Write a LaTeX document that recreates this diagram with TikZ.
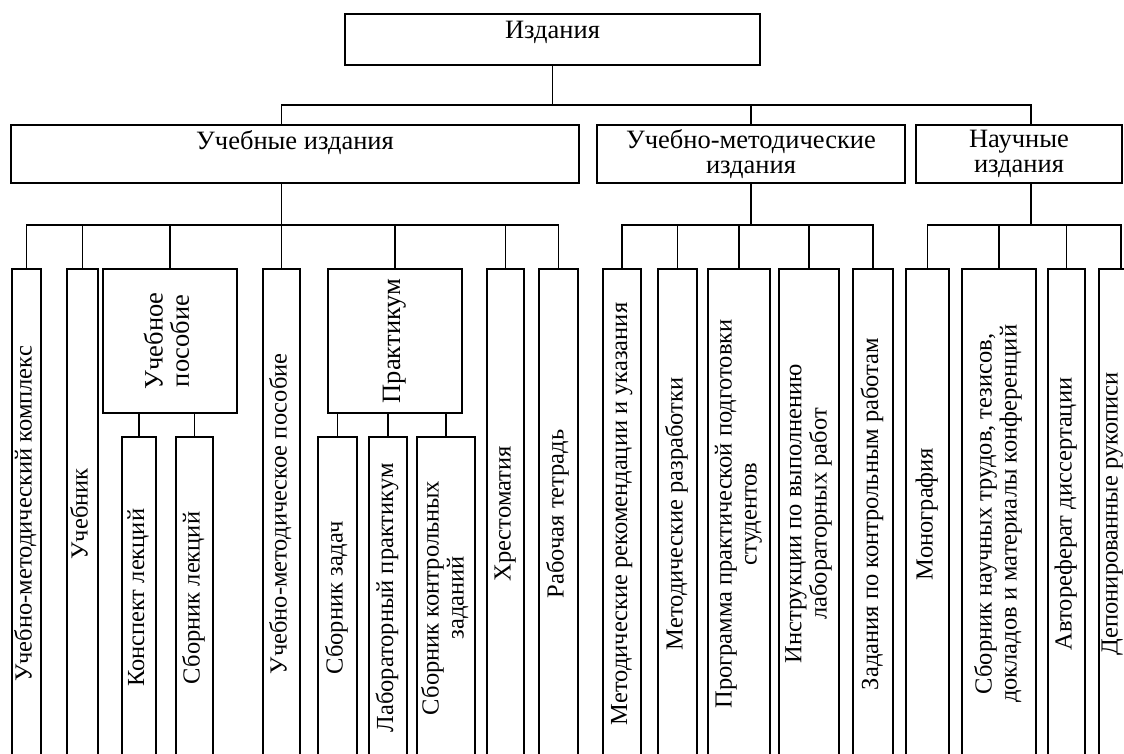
\documentclass[tikz,border=0pt]{standalone}
\usepackage{fontspec}
\setmainfont{Liberation Serif}
\usepackage{graphicx}
\usetikzlibrary{calc}
\tikzset{
	box/.style={draw, line width=1.8pt, inner sep=0pt, align=center, font=\fontsize{24.5}{25}\selectfont},
	head/.style={box, font=\fontsize{26.5}{25}\selectfont},
	leaf/.style={box, anchor=north, minimum height=490pt},
	subleaf/.style={box, anchor=north, minimum height=322pt},
	group/.style={head, anchor=north, minimum height=144pt},
	link/.style={line width=1.8pt},
}
\newcommand{\vtext}[1]{\rotatebox{90}{\begin{tabular}{@{}c@{}}#1\end{tabular}}}

\begin{document}
\begin{tikzpicture}[x=1pt, y=-1pt]
		%%%%% START %%%%%
		\path[use as bounding box, clip] (0,0) rectangle (1124,753);
		
		\node[head, minimum width=415pt, minimum height=51pt, text height=24pt, text depth=27pt] (root) at (552.5,39.5) {Издания};
		
		\node[head, minimum width=568pt, minimum height=58pt, text height=24pt, text depth=34pt] (ucheb) at (295,154) {Учебные издания};
		\node[head, minimum width=308pt, minimum height=58pt] (umizd) at (751,154) {Учебно-методические\\издания};
		\node[head, minimum width=206pt, minimum height=58pt] (sci) at (1019,154) {Научные\\издания};
		
		\coordinate (busA) at (0,105);
		\coordinate (busB) at (0,225);
		\coordinate (scitop) at ($(sci.north)+(12,0)$);
		\coordinate (scibot) at ($(sci.south)+(12,0)$);
		
		% uchebnye
		\node[leaf, minimum width=29pt] (umk) at (26.5,268) {\vtext{Учебно-методический комплекс}};
		\node[leaf, minimum width=31pt] (uchebnik) at (82.5,268) {\vtext{Учебник}};
		\node[group, minimum width=134pt] (upos) at (170,268) {\vtext{Учебное\\пособие}};
		\node[subleaf, minimum width=34pt] (konsp) at (139,436) {\vtext{Конспект лекций}};
		\node[subleaf, minimum width=37pt] (sblek) at (194.5,436) {\vtext{Сборник лекций}};
		\node[leaf, minimum width=37pt] (umpos) at (281.5,268) {\vtext{Учебно-методическое пособие}};
		\node[group, minimum width=134pt] (prakt) at (395,268) {\vtext{Практикум}};
		\node[subleaf, minimum width=39pt] (sbzad) at (337.5,436) {\vtext{Сборник задач}};
		\node[subleaf, minimum width=38pt] (labpr) at (388,436) {\vtext{Лабораторный практикум}};
		\node[subleaf, minimum width=58pt] (sbkz) at (446,436) {\vtext{Сборник контрольных\\заданий}};
		\node[leaf, minimum width=37pt] (hrest) at (505.5,268) {\vtext{Хрестоматия}};
		\node[leaf, minimum width=39pt] (rt) at (558.5,268) {\vtext{Рабочая тетрадь}};
		
		% uchebno-metodicheskie
		\node[leaf, minimum width=38pt] (mrec) at (622,268) {\vtext{Методические рекомендации и указания}};
		\node[leaf, minimum width=39pt] (mraz) at (677.5,268) {\vtext{Методические разработки}};
		\node[leaf, minimum width=62pt] (prog) at (739,268) {\vtext{Программа практической подготовки\\студентов}};
		\node[leaf, minimum width=60pt] (instr) at (809,268) {\vtext{Инструкции по выполнению\\лабораторных работ}};
		\node[leaf, minimum width=40pt] (zkr) at (873,268) {\vtext{Задания по контрольным работам}};
		
		% nauchnye
		\node[leaf, minimum width=43pt] (mono) at (927.5,268) {\vtext{Монография}};
		\node[leaf, minimum width=74pt] (sbnt) at (999,268) {\vtext{Сборник научных трудов, тезисов,\\докладов и материалы конференций}};
		\node[leaf, minimum width=37pt] (avtoref) at (1066.5,268) {\vtext{Автореферат диссертации}};
		\node[leaf, minimum width=27pt] (depon) at (1112.5,268) {\vtext{Депонированные рукописи}};
		\coordinate (depontap) at ($(depon.north)+(8.5,0)$);
		
		% links
		\draw[link] (root.south) -- (root.south |- busA);
		\draw[link] (ucheb.north -| umpos.north) |- (scitop |- busA) -- (scitop);
		\draw[link] (umizd.north) -- (umizd.north |- busA);
		
		\draw[link] (ucheb.south -| umpos.north) -- (umpos.north);
		\draw[link] (umk.north) |- (rt.north |- busB) -- (rt.north);
		\foreach \n in {uchebnik,upos,prakt,hrest}
			\draw[link] (\n.north) -- (\n.north |- busB);
		\foreach \n in {konsp,sblek}
			\draw[link] (upos.south -| \n.north) -- (\n.north);
		\foreach \n in {sbzad,labpr,sbkz}
			\draw[link] (prakt.south -| \n.north) -- (\n.north);
		
		\draw[link] (umizd.south) -- (umizd.south |- busB);
		\draw[link] (mrec.north) |- (zkr.north |- busB) -- (zkr.north);
		\foreach \n in {mraz,prog,instr}
			\draw[link] (\n.north) -- (\n.north |- busB);
		
		\draw[link] (scibot) -- (scibot |- busB);
		\draw[link] (mono.north) |- (depontap |- busB) -- (depontap);
		\foreach \n in {sbnt,avtoref}
			\draw[link] (\n.north) -- (\n.north |- busB);
		%%%%% END %%%%%
\end{tikzpicture}
\end{document}
